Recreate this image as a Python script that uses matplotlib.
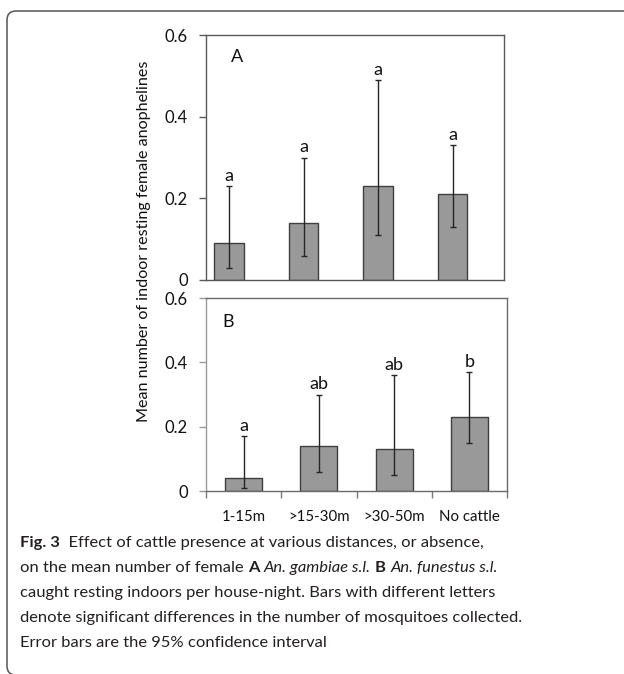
import matplotlib
matplotlib.use("Agg")
import matplotlib.pyplot as plt
import numpy as np
from matplotlib.patches import FancyBboxPatch
from matplotlib.transforms import IdentityTransform

# ---------------- data ----------------
categories = ["1-15m", ">15-30m", ">30-50m", "No cattle"]
ytick_values = [0, 0.2, 0.4, 0.6]
ytick_labels = ["0", "0.2", "0.4", "0.6"]

a_means = [0.09, 0.14, 0.23, 0.21]
a_lower = [0.03, 0.06, 0.11, 0.13]
a_upper = [0.23, 0.30, 0.49, 0.33]
a_letters = ["a", "a", "a", "a"]

b_means = [0.04, 0.14, 0.13, 0.23]
b_lower = [0.01, 0.06, 0.05, 0.15]
b_upper = [0.17, 0.30, 0.36, 0.37]
b_letters = ["a", "ab", "ab", "b"]

ylabel = "Mean number of indoor resting female anophelines"
caption_lines = [
    [("Fig. 3", "bold", "normal"), ("  Effect of cattle presence at various distances, or absence,", "normal", "normal")],
    [("on the mean number of female ", "normal", "normal"), ("A", "bold", "normal"), (" ", "normal", "normal"),
     ("An. gambiae s.l.", "normal", "italic"), (" ", "normal", "normal"), ("B", "bold", "normal"),
     (" ", "normal", "normal"), ("An. funestus s.l.", "normal", "italic")],
    [("caught resting indoors per house-night. Bars with different letters", "normal", "normal")],
    [("denote significant differences in the number of mosquitoes collected.", "normal", "normal")],
    [("Error bars are the 95% confidence interval", "normal", "normal")],
]

# ---------------- figure ----------------
W, H = 624, 674
DPI = 100
plt.rcParams['font.family'] = ['Lato', 'DejaVu Sans']
fig = plt.figure(figsize=(W / DPI, H / DPI), dpi=DPI)

def px_rect(l, t, r, b):
    return [l / W, 1 - b / H, (r - l) / W, (b - t) / H]

ax_a = fig.add_axes(px_rect(206, 35, 504, 280))
ax_b = fig.add_axes(px_rect(206, 298, 507, 491))

bar_face = "#999999"
bar_edge = "#3f3f3f"
err_col = "#262626"
tick_fs = 12
x = np.arange(len(categories))

def draw_panel(ax, means, lower, upper, letters, shift, width, panel, pxy, spine_col, left_col):
    means = np.asarray(means); lower = np.asarray(lower); upper = np.asarray(upper)
    xs = x + shift
    ax.bar(xs, means, width=width, color=bar_face, edgecolor=bar_edge, linewidth=1.0, zorder=2)
    ax.errorbar(xs, means, yerr=[means - lower, upper - means], fmt="none",
                ecolor=err_col, elinewidth=1.0, capsize=2.5, capthick=1.0, zorder=3)
    for xi, up, lt in zip(xs, upper, letters):
        ax.annotate(lt, (xi, up), xytext=(0, 1.5), textcoords="offset points",
                    ha="center", va="bottom", fontsize=13, color="#111111")
    ax.text(pxy[0], pxy[1], panel, transform=ax.transAxes, fontsize=13,
            ha="left", va="center", color="#111111")
    ax.set_xlim(-0.5, len(categories) - 0.5)
    ax.set_ylim(0, 0.6)
    ax.set_yticks(ytick_values)
    ax.set_yticklabels(ytick_labels)
    for s in ax.spines.values():
        s.set_color(spine_col)
        s.set_linewidth(1.0)
    ax.spines["left"].set_color(left_col)
    ax.tick_params(axis="y", direction="out", length=5, width=1.0, color=left_col,
                   labelsize=tick_fs, pad=8, labelcolor="#111111")

draw_panel(ax_a, a_means, a_lower, a_upper, a_letters, -0.19, 0.40, "A", (0.083, 0.911),
           "#595959", "#595959")
ax_a.set_xticks([])

draw_panel(ax_b, b_means, b_lower, b_upper, b_letters, 0.0, 0.49, "B", (0.056, 0.877),
           "#6a6a6a", "#9a9a9a")
ax_b.set_xticks(x)
ax_b.set_xticklabels(categories)
ax_b.set_xticks(np.arange(-0.5, len(categories)), minor=True)
ax_b.tick_params(axis="x", which="major", length=0, pad=14, labelsize=10.8, labelcolor="#111111")
ax_b.tick_params(axis="x", which="minor", length=5, width=1.0, color="#7a7a7a", direction="out")

fig.text(144 / W, 1 - 241 / H, ylabel, rotation=90, ha="center", va="center",
         fontsize=11.6, color="#111111")

# ---------------- caption ----------------
renderer = fig.canvas.get_renderer()
cap_family = ['Lato', 'DejaVu Sans']

def measure(line, fs):
    total = 0
    for txt, wt, st in line:
        t = fig.text(0, 0, txt, fontsize=fs, fontweight=wt, fontstyle=st, family=cap_family)
        total += t.get_window_extent(renderer).width
        t.remove()
    return total

base_fs = 12.0
target = 500.0
fs = base_fs * target / measure(caption_lines[3], base_fs)

line_y = [543, 568, 593, 618, 643]
for line, yc in zip(caption_lines, line_y):
    xcur = 20.0
    for txt, wt, st in line:
        t = fig.text(xcur / W, 1 - yc / H, txt, fontsize=fs, fontweight=wt, fontstyle=st,
                     family=cap_family, ha="left", va="center", color="#231f20")
        xcur += t.get_window_extent(renderer).width

# ---------------- frame ----------------
frame = FancyBboxPatch((7, -1), 700, H - 11 + 1, boxstyle="round,pad=0,rounding_size=9",
                       transform=IdentityTransform(), facecolor="none", edgecolor="#555555",
                       linewidth=1.1, clip_on=False)
fig.patches.append(frame)

fig.savefig("out.png", dpi=DPI)
